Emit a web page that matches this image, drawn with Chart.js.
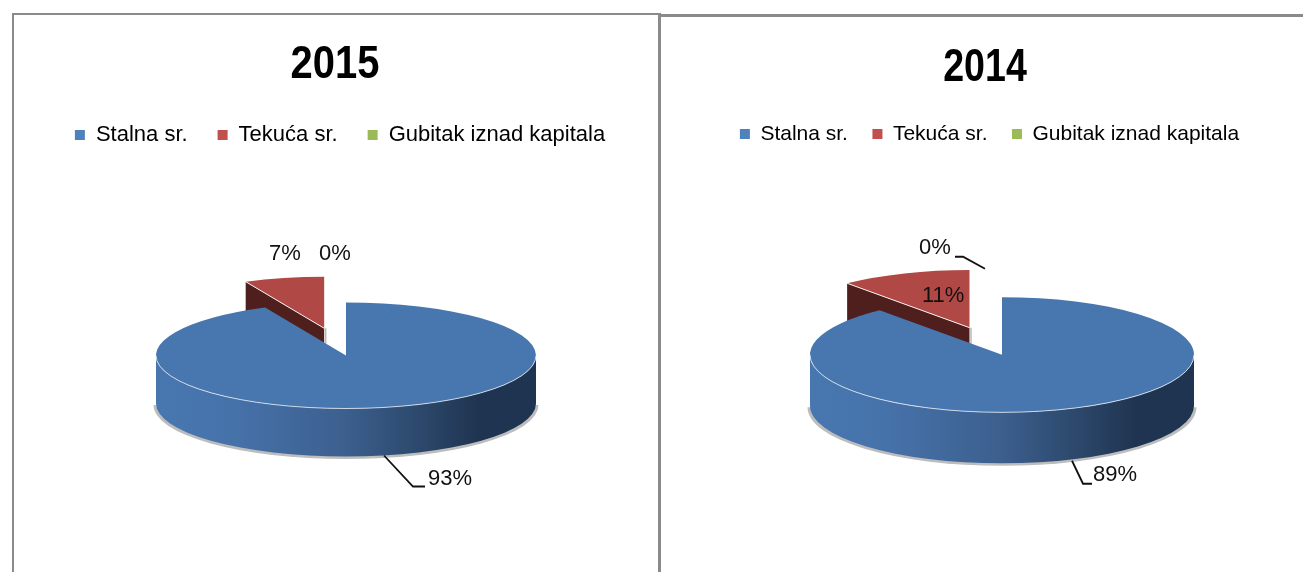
<!DOCTYPE html>
<html><head><meta charset="utf-8">
<script src="https://cdn.jsdelivr.net/npm/chart.js@4"></script>
<style>
html,body{margin:0;padding:0;background:#fff;width:1303px;height:572px;overflow:hidden}
.b{position:absolute;background:#8a8a8a}
canvas{position:absolute;top:0}
</style></head><body>
<div class="b" style="left:12px;top:13px;width:2px;height:559px"></div>
<div class="b" style="left:12px;top:13px;width:646px;height:2px"></div>
<div class="b" style="left:658px;top:13px;width:3px;height:559px"></div>
<div class="b" style="left:660px;top:14px;width:643px;height:3px"></div>
<canvas id="a" width="658" height="572" style="left:0"></canvas>
<canvas id="b" width="642" height="572" style="left:661px"></canvas>
<script>
const categories = ['Stalna sr.', 'Tekuća sr.', 'Gubitak iznad kapitala'];
const values2015 = [93, 7, 0];
const values2014 = [89, 11, 0];
const sliceColors = ['#4877b0', '#b04845', '#9bbb59'];
const legendColors = ['#4f81bd', '#c0504d', '#9bbb59'];
const family = '"Liberation Sans", sans-serif';
const labelFont = '22px ' + family;

const pie3d = {
  id: 'pie3d',
  afterInit(chart, args, o) {
    const t = chart.titleBlock, draw = t.draw;
    t.draw = function () {
      const c = this.ctx, m = (this.left + this.right) / 2;
      c.save(); c.translate(m, 0); c.scale(o.titleNarrow, 1); c.translate(-m, 0);
      draw.call(this);
      c.restore();
    };
  },
  afterLayout(chart, args, o) {
    chart.titleBlock.left += o.titleShift; chart.titleBlock.right += o.titleShift;
    chart.legend.left += o.legendShift; chart.legend.right += o.legendShift;
  },
  afterDatasetsUpdate(chart, args, o) {
    const arcs = chart.getDatasetMeta(0).data;
    arcs.forEach((arc, i) => {
      if (!o.explode[i]) return;
      const mid = (arc.startAngle + arc.endAngle) / 2;
      arc.x += Math.cos(mid) * o.explode[i];
      arc.y += Math.sin(mid) * o.explode[i];
      arc.outerRadius *= o.explodedSize;
    });
  },
  beforeDatasetsDraw(chart, args, o) {
    const ctx = chart.ctx, arcs = chart.getDatasetMeta(0).data;
    const blue = arcs[0], red = arcs[1];
    const cx = blue.x, cy = blue.y, k = o.squash, d = o.depth;
    const sy = y => cy + (y - cy) * k;
    const ax = red.x, ay = sy(red.y);
    const px = red.x + Math.cos(red.startAngle) * red.outerRadius;
    const py = sy(red.y + Math.sin(red.startAngle) * red.outerRadius);
    ctx.save();
    ctx.fillStyle = '#4f1f1e';
    ctx.beginPath();
    ctx.moveTo(ax, ay); ctx.lineTo(px, py); ctx.lineTo(px, py + d); ctx.lineTo(ax, ay + d);
    ctx.closePath(); ctx.fill();
    ctx.strokeStyle = '#b9b9b9'; ctx.lineWidth = 1.5;
    ctx.beginPath(); ctx.moveTo(ax + 1.5, ay); ctx.lineTo(ax + 1.5, ay + d * 0.32); ctx.stroke();
    const rx = blue.outerRadius, ry = rx * k;
    ctx.fillStyle = '#bdbdbd';
    ctx.beginPath();
    ctx.ellipse(cx, cy + d + 1.5, rx + 2.5, ry + 1, 0, 0, Math.PI);
    ctx.closePath(); ctx.fill();
    const g = ctx.createLinearGradient(cx - rx, 0, cx + rx, 0);
    g.addColorStop(0, '#4877b0'); g.addColorStop(0.2, '#4672aa');
    g.addColorStop(0.5, '#3c5f8e'); g.addColorStop(0.72, '#2a4567');
    g.addColorStop(0.85, '#1f3450'); g.addColorStop(1, '#1f3450');
    ctx.fillStyle = g;
    ctx.beginPath();
    ctx.ellipse(cx, cy, rx, ry, 0, 0, Math.PI);
    ctx.ellipse(cx, cy + d, rx, ry, 0, Math.PI, 0, true);
    ctx.closePath(); ctx.fill();
    ctx.restore();
    ctx.save();
    ctx.translate(0, cy); ctx.scale(1, k); ctx.translate(0, -cy);
  },
  afterDatasetsDraw(chart, args, o) {
    const ctx = chart.ctx, arcs = chart.getDatasetMeta(0).data;
    ctx.restore();
    const blue = arcs[0], red = arcs[1];
    const cx = blue.x, cy = blue.y, k = o.squash;
    const rx = blue.outerRadius, ry = rx * k;
    const sy = y => cy + (y - cy) * k;
    ctx.save();
    ctx.strokeStyle = 'rgba(225,232,242,0.85)'; ctx.lineWidth = 1;
    ctx.beginPath(); ctx.ellipse(cx, cy, rx, ry, 0, 0, Math.PI); ctx.stroke();
    ctx.strokeStyle = 'rgba(255,255,255,0.9)';
    ctx.beginPath();
    ctx.moveTo(red.x, sy(red.y));
    ctx.lineTo(red.x + Math.cos(red.startAngle) * red.outerRadius, sy(red.y + Math.sin(red.startAngle) * red.outerRadius));
    ctx.stroke();
    ctx.strokeStyle = '#111'; ctx.lineWidth = 1.8;
    o.leaders.forEach(l => {
      ctx.beginPath();
      l.forEach((p, i) => i ? ctx.lineTo(cx + p[0], cy + p[1]) : ctx.moveTo(cx + p[0], cy + p[1]));
      ctx.stroke();
    });
    const vals = chart.data.datasets[0].data;
    ctx.font = labelFont; ctx.fillStyle = '#111';
    ctx.textAlign = 'left'; ctx.textBaseline = 'middle';
    o.labels.forEach((p, i) => ctx.fillText(vals[i] + '%', cx + p[0], cy + p[1]));
    ctx.restore();
  }
};

function build(id, title, values, cfg) {
  new Chart(document.getElementById(id), {
    type: 'pie',
    plugins: [pie3d],
    data: { labels: categories, datasets: [{ data: values, backgroundColor: sliceColors, borderWidth: 0, clip: false }] },
    options: {
      responsive: false, animation: false, radius: cfg.radius, rotation: 0,
      layout: { padding: { left: cfg.padLeft, right: 0, top: 0, bottom: cfg.padBottom } },
      plugins: {
        tooltip: { enabled: false },
        title: { display: true, text: title, color: '#000',
          font: { family: family, size: 47, weight: 'bold', lineHeight: 1 },
          padding: { top: cfg.titleTop, bottom: cfg.titleBottom } },
        legend: { position: 'top', labels: {
          boxWidth: 10, boxHeight: 10, padding: cfg.legendGap, color: '#111',
          font: { family: family, size: cfg.legendSize },
          generateLabels: () => categories.map((t, i) => ({ text: t, fillStyle: legendColors[i], strokeStyle: legendColors[i], lineWidth: 0, hidden: false, index: i }))
        } },
        pie3d: cfg
      }
    }
  });
}

build('a', '2015', values2015, {
  radius: 190, padLeft: 34, padBottom: 17, titleTop: 42, titleBottom: 5, legendGap: 30, legendSize: 22, titleNarrow: 0.85,
  squash: 0.279, depth: 48, explode: [0, 100, 0], explodedSize: 0.97, titleShift: -11, legendShift: -6,
  labels: [[82, 123], [-77, -102], [-27, -102]],
  leaders: [[[38, 100], [67, 131], [79, 131]]]
});
build('b', '2014', values2014, {
  radius: 192, padLeft: 40, padBottom: 17, titleTop: 45, titleBottom: 7, legendGap: 24.5, legendSize: 21, titleNarrow: 0.8,
  squash: 0.30, depth: 51, explode: [0, 96, 0], explodedSize: 1, titleShift: -17, legendShift: -12.5,
  labels: [[91, 120], [-80, -59], [-83, -107]],
  leaders: [[[70, 106], [81, 129], [90, 129]], [[-47, -98], [-39, -98], [-17, -86]]]
});
</script>
</body></html>
